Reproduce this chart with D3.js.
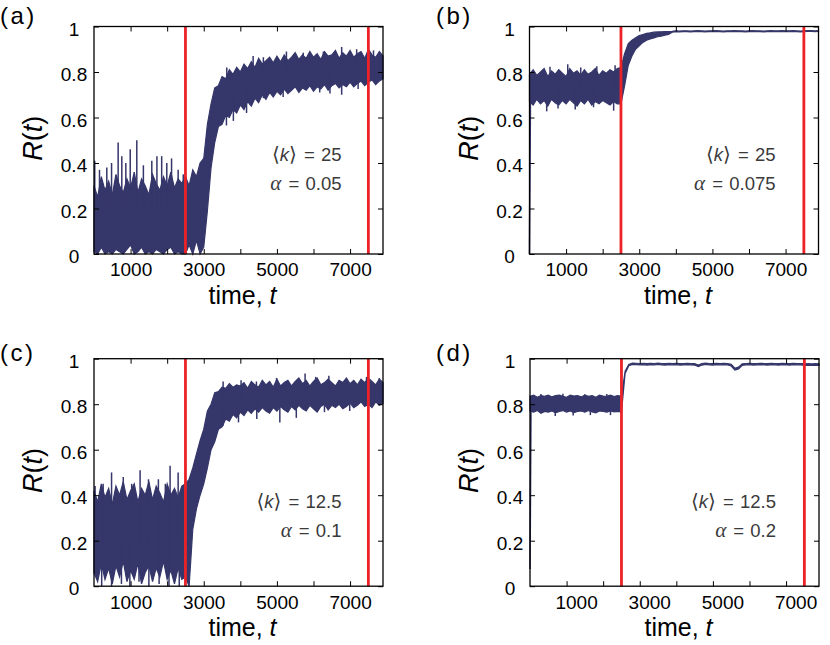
<!DOCTYPE html>
<html>
<head>
<meta charset="utf-8">
<script src="https://cdn.jsdelivr.net/npm/d3@7"></script>
<style>
  body { margin: 0; background: #fff; }
  svg text { font-family: "Liberation Sans", Arial, "DejaVu Sans", sans-serif; }
</style>
</head>
<body>
<svg id="chart" width="830" height="645"></svg>
<script>
// ---- data ----
const sampleTimes = [0,100,200,300,400,500,600,700,800,900,1000,1100,1200,1300,1400,1500,1600,1700,1800,1900,
  2000,2100,2200,2300,2400,2500,2600,2700,2800,2900,3000,3100,3200,3300,3400,3500,3600,3700,3800,3900,
  4000,4100,4200,4300,4400,4500,4600,4700,4800,4900,5000,5100,5200,5300,5400,5500,5600,5700,5800,5900,
  6000,6100,6200,6300,6400,6500,6600,6700,6800,6900,7000,7100,7200,7300,7400,7500,7600,7700,7800,7900];

const markerTimes = [2500, 7500];
const xTicks = [1000, 2000, 3000, 4000, 5000, 6000, 7000];
const xTickLabels = [1000, 3000, 5000, 7000];
const yTicks = [0, 0.2, 0.4, 0.6, 0.8, 1];
const yTickLabels = ['0', '0.2', '0.4', '0.6', '0.8', '1'];

const panelNames = ['(a)', '(b)', '(c)', '(d)'];
const degreeLabels = ['25', '25', '12.5', '12.5'];
const alphaLabels = ['0.05', '0.075', '0.1', '0.2'];

// upper / lower envelope of R(t) at each sample time
const hiA = [0.30,0.25,0.34,0.28,0.32,0.26,0.35,0.30,0.27,0.33,0.29,0.36,0.27,0.33,0.30,0.26,0.35,0.31,0.28,0.34,0.30,0.36,0.29,0.33,0.31,
  0.34,0.30,0.37,0.34,0.40,
  0.42,0.57,0.66,0.73,0.74,0.78,0.77,0.81,0.79,0.82,
  0.80,0.835,0.815,0.845,0.82,0.86,0.835,0.85,0.865,0.84,0.87,0.845,0.875,0.85,0.865,0.885,0.855,0.875,0.86,0.89,
  0.865,0.88,0.855,0.89,0.87,0.875,0.895,0.86,0.885,0.87,0.895,0.865,0.88,0.89,0.86,0.90,0.875,0.865,0.89,0.87];
const loA = [0.01,0.00,0.03,0.00,0.01,0.00,0.02,0.01,0.00,0.02,0.04,0.00,0.01,0.03,0.00,0.01,0.00,0.02,0.01,0.00,0.02,0.03,0.00,0.01,0.00,
  0.00,0.04,0.00,0.06,0.00,
  0.03,0.19,0.38,0.49,0.56,0.57,0.61,0.60,0.635,0.62,
  0.655,0.635,0.67,0.65,0.685,0.665,0.70,0.68,0.71,0.69,0.715,0.70,0.725,0.705,0.72,0.735,0.71,0.73,0.72,0.74,
  0.715,0.735,0.725,0.745,0.72,0.74,0.75,0.73,0.745,0.735,0.755,0.735,0.75,0.76,0.74,0.755,0.765,0.745,0.76,0.77];

const hiB = [0.79,0.81,0.785,0.80,0.815,0.78,0.805,0.79,0.81,0.795,0.78,0.815,0.795,0.805,0.785,0.81,0.79,0.80,0.815,0.785,0.805,0.795,0.81,0.80,0.815,
  0.82,0.88,0.925,0.94,0.95,0.96,0.965,0.97,0.972,0.975,0.976,0.977,0.978,0.978,0.979,
  0.981,0.98,0.981,0.981,0.98,0.981,0.982,0.981,0.98,0.981,0.981,0.982,0.981,0.98,0.981,0.981,0.982,0.981,0.981,0.98,
  0.981,0.982,0.981,0.981,0.98,0.981,0.982,0.981,0.981,0.982,0.981,0.981,0.982,0.981,0.98,0.981,0.982,0.982,0.981,0.982];
const loB = [0.67,0.655,0.68,0.66,0.675,0.65,0.68,0.665,0.655,0.675,0.66,0.68,0.665,0.65,0.675,0.66,0.68,0.655,0.67,0.66,0.675,0.665,0.655,0.67,0.66,
  0.66,0.74,0.83,0.87,0.90,0.915,0.93,0.94,0.945,0.95,0.955,0.958,0.962,0.965,0.975,
  0.977,0.976,0.977,0.977,0.976,0.977,0.978,0.977,0.976,0.977,0.977,0.978,0.977,0.976,0.977,0.977,0.978,0.977,0.977,0.976,
  0.977,0.978,0.977,0.977,0.976,0.977,0.978,0.977,0.977,0.978,0.977,0.977,0.978,0.977,0.976,0.977,0.978,0.978,0.977,0.978];

const hiC = [0.42,0.37,0.45,0.39,0.43,0.36,0.44,0.40,0.46,0.38,0.42,0.45,0.37,0.43,0.40,0.46,0.38,0.44,0.41,0.37,0.45,0.40,0.43,0.39,0.44,
  0.45,0.47,0.52,0.58,0.64,
  0.69,0.77,0.80,0.85,0.855,0.875,0.87,0.89,0.875,0.885,
  0.88,0.895,0.87,0.90,0.885,0.875,0.905,0.885,0.90,0.875,0.91,0.88,0.895,0.905,0.88,0.90,0.915,0.89,0.905,0.88,
  0.90,0.915,0.885,0.895,0.91,0.895,0.88,0.905,0.895,0.915,0.89,0.905,0.885,0.91,0.895,0.915,0.90,0.885,0.91,0.895];
const loC = [0.06,0.02,0.10,0.03,0.08,0.01,0.09,0.04,0.11,0.02,0.07,0.03,0.10,0.01,0.06,0.09,0.02,0.08,0.04,0.11,0.03,0.07,0.01,0.08,0.03,
  0.04,0.00,0.25,0.34,0.40,
  0.45,0.52,0.60,0.635,0.69,0.70,0.735,0.725,0.755,0.74,
  0.765,0.75,0.775,0.76,0.78,0.765,0.785,0.77,0.76,0.785,0.77,0.79,0.775,0.765,0.79,0.775,0.795,0.78,0.77,0.795,
  0.78,0.765,0.79,0.80,0.775,0.795,0.785,0.80,0.78,0.79,0.805,0.785,0.795,0.81,0.79,0.80,0.785,0.81,0.795,0.805];

const hiD = [0.835,0.84,0.83,0.838,0.835,0.84,0.832,0.838,0.84,0.835,0.83,0.84,0.836,0.838,0.832,0.84,0.835,0.838,0.83,0.84,0.836,0.835,0.84,0.834,0.838,
  0.835,0.945,0.975,0.981,0.980,
  0.979,0.980,0.978,0.980,0.979,0.981,0.979,0.978,0.980,0.979,0.980,0.978,0.979,0.980,0.979,0.978,0.972,0.978,0.981,0.979,
  0.978,0.980,0.979,0.980,0.979,0.975,0.958,0.963,0.977,0.979,0.980,0.978,0.979,0.980,0.979,0.978,0.980,0.979,0.978,0.980,
  0.979,0.978,0.980,0.979,0.979,0.977,0.978,0.977,0.978,0.977];
const loD = [0.77,0.765,0.772,0.76,0.768,0.765,0.77,0.762,0.768,0.772,0.765,0.77,0.763,0.768,0.77,0.765,0.772,0.766,0.762,0.77,0.768,0.765,0.77,0.766,0.768,
  0.765,0.935,0.969,0.975,0.974,
  0.973,0.974,0.972,0.974,0.973,0.975,0.973,0.972,0.974,0.973,0.974,0.972,0.973,0.974,0.973,0.972,0.965,0.972,0.975,0.973,
  0.972,0.974,0.973,0.974,0.973,0.968,0.950,0.955,0.971,0.973,0.974,0.972,0.973,0.974,0.973,0.972,0.974,0.973,0.972,0.974,
  0.973,0.972,0.974,0.973,0.973,0.971,0.972,0.971,0.972,0.971];

// initial climb from the starting state
const riseB = [[0, 0], [25, 0.70]];
const riseD = [[0, 0.076], [25, 0.77]];

// single excursions outside the band: [time, tip, base]
const spikesA = [[20,0.41,0.2],[150,0.37,0.2],[350,0.38,0.2],[480,0.40,0.2],[660,0.49,0.2],[760,0.43,0.2],[870,0.40,0.2],
  [990,0.46,0.2],[1170,0.50,0.2],[1350,0.39,0.2],[1580,0.41,0.2],[1720,0.43,0.2],[1850,0.43,0.2],[1990,0.40,0.2],
  [2120,0.42,0.2],[2300,0.37,0.2],[2440,0.35,0.2],
  [3630,0.82,0.7],[4350,0.87,0.75],[4630,0.865,0.75],[5260,0.89,0.8],[5720,0.885,0.8],[6270,0.89,0.8],[6770,0.91,0.8],
  [7180,0.90,0.8],[7500,0.90,0.8],[7640,0.895,0.8],
  [3620,0.565,0.7],[3810,0.585,0.7],[4170,0.62,0.75],[4630,0.685,0.75],[5170,0.69,0.8],[6170,0.71,0.8],[6450,0.705,0.8],
  [6770,0.70,0.8],[7220,0.725,0.8]];
const spikesB = [[560,0.823,0.73],[1045,0.834,0.73],[1400,0.82,0.73],[1840,0.825,0.73],[2340,0.83,0.73],
  [470,0.627,0.73],[780,0.64,0.73],[1250,0.635,0.73],[1750,0.645,0.73],[2300,0.63,0.73]];
const spikesC = [[30,0.44,0.2],[250,0.45,0.2],[480,0.50,0.2],[800,0.48,0.2],[1030,0.45,0.2],[1260,0.51,0.2],[1490,0.47,0.2],
  [1760,0.47,0.2],[1950,0.45,0.2],[2080,0.53,0.2],[2300,0.50,0.2],
  [210,0.0,0.2],[480,0.0,0.2],[750,0.01,0.2],[980,0.0,0.2],[1230,0.02,0.2],[1500,0.0,0.2],[1780,0.01,0.2],[2050,0.0,0.2],[2330,0.0,0.2],
  [3530,0.90,0.82],[4020,0.905,0.82],[4440,0.90,0.82],[4990,0.915,0.85],[5770,0.935,0.85],[6060,0.92,0.85],[6420,0.925,0.85],
  [7450,0.92,0.85],[7800,0.915,0.85],
  [3530,0.705,0.8],[3950,0.72,0.8],[4450,0.735,0.82],[5080,0.72,0.82],[5530,0.74,0.82],[6300,0.765,0.84],[6990,0.77,0.84]];
const spikesD = [[300,0.845,0.8],[900,0.846,0.8],[1500,0.844,0.8],[2100,0.845,0.8],
  [690,0.748,0.8],[1180,0.75,0.8],[1650,0.752,0.8],[2200,0.752,0.8]];

// ---- layout ----
const NAVY = '#35366a';
const RED = '#ec2227';
const W = 289, H = 227.5;
const xDomain = [0, 7900];

const panels = [
  { left: 94,    top: 26.5,  lo: loA, hi: hiA, spikes: spikesA, rise: null,  annoY: [134, 163.5], annoRight: 41.5, labelX: 0,   labelY: 23.5,  xLabelShift: 0 },
  { left: 529.5, top: 26.5,  lo: loB, hi: hiB, spikes: spikesB, rise: riseB, annoY: [134, 163.5], annoRight: 43,   labelX: 436, labelY: 23.5,  xLabelShift: 0 },
  { left: 94,    top: 358.7, lo: loC, hi: hiC, spikes: spikesC, rise: null,  annoY: [149.8, 178], annoRight: 41.5, labelX: 0,   labelY: 360.5, xLabelShift: 0 },
  { left: 530,   top: 358.7, lo: loD, hi: hiD, spikes: spikesD, rise: riseD, annoY: [149.8, 178], annoRight: 43,   labelX: 436, labelY: 360.5, xLabelShift: 9.5 }
];

const svg = d3.select('#chart');

panels.forEach((p, idx) => {
  const g = svg.append('g').attr('transform', `translate(${p.left},${p.top})`);
  const x = d3.scaleLinear().domain(xDomain).range([0, W]);
  const y = d3.scaleLinear().domain([0, 1]).range([H, 0]);

  const rows = sampleTimes.map((t, i) => ({ t: t, lo: p.lo[i], hi: p.hi[i] }));

  // noisy band
  g.append('path')
    .datum(rows)
    .attr('d', d3.area().x(d => x(d.t)).y0(d => y(d.lo)).y1(d => y(d.hi)))
    .attr('fill', NAVY)
    .attr('stroke', NAVY)
    .attr('stroke-width', 1.2);

  if (p.rise) {
    g.append('path')
      .datum(p.rise)
      .attr('d', d3.line().x(d => x(d[0])).y(d => y(d[1])))
      .attr('fill', 'none')
      .attr('stroke', NAVY)
      .attr('stroke-width', 1.6);
  }

  g.append('g').selectAll('line')
    .data(p.spikes)
    .join('line')
    .attr('x1', d => x(d[0])).attr('x2', d => x(d[0]))
    .attr('y1', d => y(d[2])).attr('y2', d => y(d[1]))
    .attr('stroke', NAVY)
    .attr('stroke-width', 1.5);

  // red marker lines
  g.append('g').selectAll('line')
    .data(markerTimes)
    .join('line')
    .attr('x1', d => x(d)).attr('x2', d => x(d))
    .attr('y1', 0).attr('y2', H)
    .attr('stroke', RED)
    .attr('stroke-width', 2.8);

  // axes, ticks pointing inward on all four sides
  const styleAxis = a => {
    a.select('.domain').remove();
    a.attr('font-size', 19).attr('font-family', '"Liberation Sans", Arial, sans-serif');
    a.selectAll('.tick line').attr('stroke', '#000').attr('stroke-width', 1);
    a.selectAll('.tick text').attr('fill', '#000');
  };

  g.append('g')
    .attr('transform', `translate(0,${H})`)
    .call(d3.axisBottom(x).tickValues(xTicks).tickSizeInner(-5).tickSizeOuter(0).tickPadding(9)
      .tickFormat(d => xTickLabels.includes(d) ? String(d) : ''))
    .call(styleAxis)
    .call(a => a.selectAll('.tick text').attr('dx', p.xLabelShift));

  g.append('g')
    .call(d3.axisTop(x).tickValues(xTicks).tickSizeInner(-5).tickSizeOuter(0).tickFormat(''))
    .call(styleAxis);

  g.append('g')
    .call(d3.axisLeft(y).tickValues(yTicks).tickSizeInner(-5).tickSizeOuter(0)
      .tickFormat((d, i) => yTickLabels[i]))
    .call(styleAxis)
    .call(a => a.selectAll('.tick text').attr('x', -20).attr('text-anchor', 'middle').attr('dy', '0.46em'));

  g.append('g')
    .attr('transform', `translate(${W},0)`)
    .call(d3.axisRight(y).tickValues(yTicks).tickSizeInner(-5).tickSizeOuter(0).tickFormat(''))
    .call(styleAxis);

  // frame
  g.append('rect')
    .attr('width', W).attr('height', H)
    .attr('fill', 'none')
    .attr('stroke', '#000')
    .attr('stroke-width', 1.3);

  // axis titles
  const xt = g.append('text')
    .attr('x', W / 2 + 4).attr('y', H + 50)
    .attr('text-anchor', 'middle')
    .attr('font-size', 25)
    .text('time, ');
  xt.append('tspan').attr('font-style', 'italic').text('t');

  const yt = g.append('text')
    .attr('transform', `translate(-52,${H / 2 - 2}) rotate(-90)`)
    .attr('text-anchor', 'middle')
    .attr('font-size', 27);
  yt.append('tspan').attr('font-style', 'italic').text('R');
  yt.append('tspan').text('(');
  yt.append('tspan').attr('font-style', 'italic').text('t');
  yt.append('tspan').text(')');

  // parameter annotation
  const ax = W - p.annoRight;
  const k = g.append('text')
    .attr('x', ax).attr('y', p.annoY[0])
    .attr('text-anchor', 'end')
    .attr('font-size', 18.5)
    .attr('fill', '#3a3a3a');
  k.append('tspan').attr('font-family', '"DejaVu Sans", sans-serif').attr('font-size', 20).text('\u27E8');
  k.append('tspan').attr('font-style', 'italic').text('k');
  k.append('tspan').attr('font-family', '"DejaVu Sans", sans-serif').attr('font-size', 20).text('\u27E9');
  k.append('tspan').attr('dx', 2).text(' = ');
  k.append('tspan').attr('dx', 1).text(degreeLabels[idx]);

  const al = g.append('text')
    .attr('x', ax).attr('y', p.annoY[1])
    .attr('text-anchor', 'end')
    .attr('font-size', 18.5)
    .attr('fill', '#3a3a3a');
  al.append('tspan').attr('font-family', '"Liberation Serif", "DejaVu Serif", serif').attr('font-style', 'italic').attr('font-size', 21).text('\u03B1');
  al.append('tspan').attr('dx', 2).text(' = ');
  al.append('tspan').attr('dx', 1).text(alphaLabels[idx]);

  // panel letter
  svg.append('text')
    .attr('x', p.labelX).attr('y', p.labelY)
    .attr('font-size', 24)
    .attr('letter-spacing', 2.5)
    .text(panelNames[idx]);
});
</script>
</body>
</html>
